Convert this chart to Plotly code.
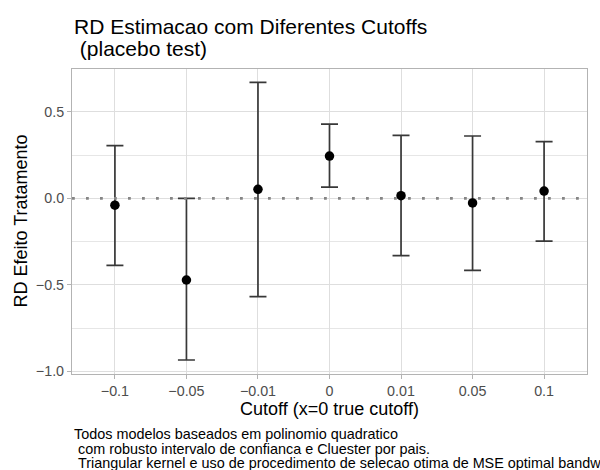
import plotly.graph_objects as go

# ---- data ----
cutoffs = ["\u22120.1", "\u22120.05", "\u22120.01", "0", "0.01", "0.05", "0.1"]
estimate = [-0.040, -0.472, 0.052, 0.244, 0.015, -0.027, 0.042]
ci_lower = [-0.387, -0.934, -0.568, 0.065, -0.331, -0.416, -0.247]
ci_upper = [0.304, 0.000, 0.670, 0.429, 0.364, 0.360, 0.327]
reference_level = 0.0

title_lines = ["RD Estimacao com Diferentes Cutoffs", "\u00a0(placebo test)"]
caption_lines = [
    "Todos modelos baseados em polinomio quadratico",
    "\u00a0com robusto intervalo de confianca e Cluester por pais.",
    "\u00a0Triangular kernel e uso de procedimento de selecao otima de MSE optimal bandwidth",
]
x_title = "Cutoff (x=0 true cutoff)"
y_title = "RD Efeito Tratamento"

W, H = 600, 470
L, R, T, B = 72, 13, 69, 96
FONT = "Liberation Sans, Arial, Helvetica, sans-serif"

def py(p):
    # pixel y (from top) -> paper y
    return (H - B - p) / (H - T - B)

def px(p):
    return (p - L) / (W - L - R)

err_plus = [u - e for u, e in zip(ci_upper, estimate)]
err_minus = [e - l for e, l in zip(estimate, ci_lower)]

fig = go.Figure()
# dotted reference line across the whole panel (on an invisible 0..1 axis)
fig.add_trace(go.Scatter(
    x=[0, 1], y=[reference_level, reference_level], xaxis="x2", yaxis="y",
    mode="lines", line=dict(color="#858585", width=2.8, dash="2.8px,11.2px"),
    showlegend=False, hoverinfo="skip",
))
fig.add_trace(go.Scatter(
    x=cutoffs, y=estimate, mode="markers",
    marker=dict(color="black", size=9.5),
    error_y=dict(type="data", array=err_plus, arrayminus=err_minus,
                 color="#383838", thickness=1.7, width=8.5, symmetric=False),
    showlegend=False, hoverinfo="skip", cliponaxis=False,
))

annos = []
annos.append(dict(text=title_lines[0], x=px(72), y=py(27), xref="paper", yref="paper",
                  xanchor="left", yanchor="middle", showarrow=False,
                  font=dict(family=FONT, size=21, color="black")))
annos.append(dict(text=title_lines[1], x=px(72), y=py(49), xref="paper", yref="paper",
                  xanchor="left", yanchor="middle", showarrow=False,
                  font=dict(family=FONT, size=21, color="black")))
annos.append(dict(text=x_title, x=0.5, y=py(409), xref="paper", yref="paper",
                  xanchor="center", yanchor="middle", showarrow=False,
                  font=dict(family=FONT, size=18, color="black")))
annos.append(dict(text=y_title, x=px(20), y=0.5, xref="paper", yref="paper",
                  xanchor="center", yanchor="middle", showarrow=False, textangle=-90,
                  font=dict(family=FONT, size=18, color="black")))
for i, line in enumerate(caption_lines):
    annos.append(dict(text=line, x=px(72), y=py(434 + 14.5 * i), xref="paper", yref="paper",
                      xanchor="left", yanchor="middle", showarrow=False,
                      font=dict(family=FONT, size=14.4, color="black")))

fig.update_layout(
    width=W, height=H,
    margin=dict(l=L, r=R, t=T, b=B),
    paper_bgcolor="white", plot_bgcolor="white",
    font=dict(family=FONT),
    annotations=annos,
    xaxis=dict(
        type="category", range=[-0.6, 6.6],
        showgrid=True, gridcolor="#DEDEDE", gridwidth=1.1,
        showline=True, linecolor="#B3B3B3", linewidth=1.1, mirror=True,
        ticks="outside", ticklen=3.5, tickcolor="#B3B3B3", tickwidth=1.1,
        tickfont=dict(family=FONT, size=14.3, color="#4D4D4D"),
        zeroline=False,
    ),
    xaxis2=dict(
        overlaying="x", range=[0, 1], visible=False, showgrid=False, zeroline=False,
    ),
    yaxis=dict(
        range=[-1.015, 0.747],
        tickvals=[-1.0, -0.5, 0.0, 0.5], ticktext=["\u22121.0", "\u22120.5", "0.0", "0.5"],
        showgrid=True, gridcolor="#DEDEDE", gridwidth=1.1,
        minor=dict(tickvals=[-0.75, -0.25, 0.25], showgrid=True, gridcolor="#E6E6E6", gridwidth=0.6),
        showline=True, linecolor="#B3B3B3", linewidth=1.1, mirror=True,
        ticks="outside", ticklen=4, tickcolor="#B3B3B3", tickwidth=1.1,
        tickfont=dict(family=FONT, size=14.3, color="#4D4D4D"),
        zeroline=False,
    ),
)

fig.write_html("out.html")
